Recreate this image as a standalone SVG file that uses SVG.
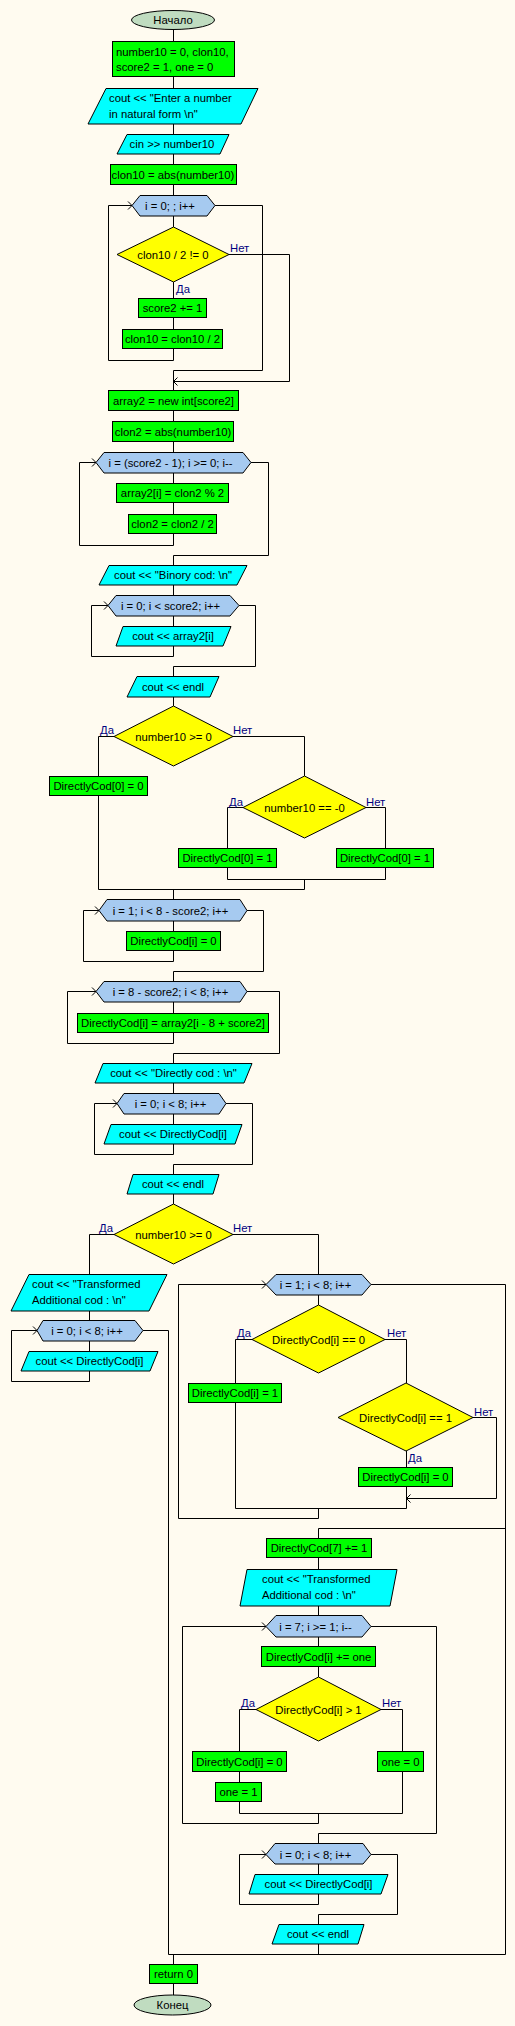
<svg xmlns="http://www.w3.org/2000/svg" width="515" height="2026" viewBox="0 0 515 2026">
<style>
.t{font-family:"Liberation Sans",Arial,sans-serif;font-size:11.3px;fill:#000}
.c{text-anchor:middle}
.lbl{fill:#000080}
.op{fill:#00FF00;stroke:#000;stroke-width:1}
.io{fill:#00FFFF;stroke:#000;stroke-width:1}
.dec{fill:#FFFF00;stroke:#000;stroke-width:1}
.loop{fill:#A6CAF0;stroke:#000;stroke-width:1}
.term{fill:#C0DCC0;stroke:#000;stroke-width:1}
#connectors path{fill:none;stroke:#000;stroke-width:1}
</style>
<defs>
<marker id="chev" markerWidth="8" markerHeight="10" refX="5" refY="5" orient="auto" markerUnits="userSpaceOnUse">
<path d="M1,1 L5,5 L1,9" fill="none" stroke="#000" stroke-width="1"/>
</marker>
</defs>
<rect x="0" y="0" width="515" height="2026" fill="#FFFBF0"/>

<g id="connectors">
<path d="M173.5,29.5 V41"/>
<path d="M173.5,77 V88"/>
<path d="M173.5,124 V134"/>
<path d="M173.5,154 V164"/>
<path d="M173.5,185 V195"/>
<path d="M173.5,216 V227"/>
<path d="M173.5,282 V298"/>
<path d="M173.5,318 V329"/>
<path d="M173.5,349 V360.5 H108.5 V205.5 H132" marker-end="url(#chev)"/>
<path d="M215,205.5 H262.5 V370.5 H173.5 V390"/>
<path d="M229,254.5 H289.5 V381.5 H173.5" marker-end="url(#chev)"/>
<path d="M173.5,411 V421"/>
<path d="M173.5,442 V452"/>
<path d="M173.5,473 V483"/>
<path d="M173.5,503 V514"/>
<path d="M173.5,534 V545.5 H79.5 V462.5 H96" marker-end="url(#chev)"/>
<path d="M251,462.5 H268.5 V555.5 H173.5 V565"/>
<path d="M173.5,585 V595"/>
<path d="M173.5,616 V626"/>
<path d="M173.5,646 V656.5 H91.5 V605.5 H108" marker-end="url(#chev)"/>
<path d="M239,605.5 H255.5 V666.5 H173.5 V676"/>
<path d="M173.5,697 V706"/>
<path d="M114,736.5 H98.5 V776"/>
<path d="M233,736.5 H304.5 V776"/>
<path d="M98.5,796 V889.5 H304.5"/>
<path d="M243,807.5 H227.5 V848"/>
<path d="M366,807.5 H385.5 V848"/>
<path d="M227.5,868 V879.5 H385.5 V868"/>
<path d="M304.5,879.5 V889.5"/>
<path d="M173.5,889.5 V899"/>
<path d="M173.5,921 V931"/>
<path d="M173.5,951 V961.5 H83.5 V910.5 H99" marker-end="url(#chev)"/>
<path d="M247,910.5 H263.5 V971.5 H173.5 V981"/>
<path d="M173.5,1002 V1013"/>
<path d="M173.5,1033 V1043.5 H67.5 V991.5 H96" marker-end="url(#chev)"/>
<path d="M247,991.5 H279.5 V1053.5 H173.5 V1063"/>
<path d="M173.5,1083 V1093"/>
<path d="M173.5,1114 V1124"/>
<path d="M173.5,1144 V1154.5 H94.5 V1103.5 H117" marker-end="url(#chev)"/>
<path d="M226,1103.5 H252.5 V1164.5 H173.5 V1174"/>
<path d="M173.5,1194 V1204"/>
<path d="M114,1234.5 H89.5 V1274"/>
<path d="M89.5,1311 V1320"/>
<path d="M89.5,1341 V1351"/>
<path d="M89.5,1371 V1381.5 H11.5 V1330.5 H37" marker-end="url(#chev)"/>
<path d="M143,1330.5 H168.5 V1954.5"/>
<path d="M233,1234.5 H318.5 V1274"/>
<path d="M318.5,1295 V1305"/>
<path d="M252,1339.5 H235.5 V1383"/>
<path d="M235.5,1403 V1508.5 H406.5"/>
<path d="M385,1339.5 H406.5 V1383"/>
<path d="M406.5,1451 V1467"/>
<path d="M406.5,1487 V1508.5"/>
<path d="M473,1417.5 H496.5 V1498.5 H406.5" marker-end="url(#chev)"/>
<path d="M318.5,1508.5 V1518.5 H178.5 V1284.5 H266" marker-end="url(#chev)"/>
<path d="M371,1284.5 H505.5 V1954.5"/>
<path d="M505.5,1528.5 H318.5 V1538"/>
<path d="M318.5,1558 V1569"/>
<path d="M318.5,1606 V1615"/>
<path d="M318.5,1637 V1646"/>
<path d="M318.5,1667 V1677"/>
<path d="M256,1709.5 H239.5 V1751"/>
<path d="M239.5,1772 V1782"/>
<path d="M239.5,1802 V1813.5 H402.5"/>
<path d="M381,1709.5 H402.5 V1751"/>
<path d="M402.5,1772 V1813.5"/>
<path d="M318.5,1813.5 V1823.5 H182.5 V1626.5 H266" marker-end="url(#chev)"/>
<path d="M371,1626.5 H436.5 V1833.5 H318.5 V1843"/>
<path d="M318.5,1864 V1874"/>
<path d="M318.5,1894 V1904.5 H239.5 V1854.5 H266" marker-end="url(#chev)"/>
<path d="M371,1854.5 H397.5 V1914.5 H318.5 V1924"/>
<path d="M318.5,1944 V1954.5"/>
<path d="M168.5,1954.5 H505.5"/>
<path d="M173.5,1954.5 V1964"/>
<path d="M173.5,1984 V1995"/>
</g>

<g id="start"><ellipse class="term" cx="173" cy="20" rx="41.5" ry="9.5"/><text class="t c" x="173" y="24">Начало</text></g>
<g id="init"><rect class="op" x="112.5" y="41.5" width="122" height="35"/><text class="t" x="116" y="56">number10 = 0, clon10,</text><text class="t" x="116" y="71">score2 = 1, one = 0</text></g>
<g id="out1"><polygon class="io" points="106,88.5 258,88.5 241,124 88,124"/><text class="t" x="109" y="102">cout &lt;&lt; "Enter a number</text><text class="t" x="109" y="118">in natural form \n"</text></g>
<g id="in1"><polygon class="io" points="127,134.5 229,134.5 220,154 117,154"/><text class="t c" x="172" y="148">cin &gt;&gt; number10</text></g>
<g id="abs1"><rect class="op" x="110.5" y="164.5" width="126" height="20"/><text class="t c" x="173" y="178.5">clon10 = abs(number10)</text></g>
<g id="loop1"><polygon class="loop" points="132,205.5 140,195.5 207,195.5 215,205.5 207,216 140,216"/><text class="t c" x="170" y="209.5">i = 0; ; i++</text></g>
<g id="if1"><polygon class="dec" points="173.5,227 229,254.5 173.5,282 117,254.5"/><text class="t c" x="173" y="258.5">clon10 / 2 != 0</text><text class="t lbl" x="230" y="252">Нет</text><text class="t lbl" x="176" y="293">Да</text></g>
<g id="sc2"><rect class="op" x="138.5" y="298.5" width="68" height="19"/><text class="t c" x="172.5" y="312">score2 += 1</text></g>
<g id="cl10"><rect class="op" x="122.5" y="329.5" width="100" height="19"/><text class="t c" x="172.5" y="343">clon10 = clon10 / 2</text></g>
<g id="arr2"><rect class="op" x="108.5" y="390.5" width="130" height="20"/><text class="t c" x="173.5" y="404.5">array2 = new int[score2]</text></g>
<g id="cl2"><rect class="op" x="112.5" y="421.5" width="121" height="20"/><text class="t c" x="173" y="435.5">clon2 = abs(number10)</text></g>
<g id="loop2"><polygon class="loop" points="96,462.5 104,452.5 243,452.5 251,462.5 243,473 104,473"/><text class="t c" x="170.5" y="466.5">i = (score2 - 1); i &gt;= 0; i--</text></g>
<g id="arr2i"><rect class="op" x="116.5" y="483.5" width="112" height="19"/><text class="t c" x="172.5" y="497">array2[i] = clon2 % 2</text></g>
<g id="cl2d"><rect class="op" x="128.5" y="514.5" width="88" height="19"/><text class="t c" x="172.5" y="528">clon2 = clon2 / 2</text></g>
<g id="out2"><polygon class="io" points="109,565.5 247,565.5 237,585 99,585"/><text class="t c" x="173" y="579">cout &lt;&lt; "Binory cod: \n"</text></g>
<g id="loop3"><polygon class="loop" points="108,605.5 116,595.5 230,595.5 239,605.5 230,616 116,616"/><text class="t c" x="170.5" y="609.5">i = 0; i &lt; score2; i++</text></g>
<g id="out3"><polygon class="io" points="123,626.5 231,626.5 223,646 116,646"/><text class="t c" x="173" y="640">cout &lt;&lt; array2[i]</text></g>
<g id="out4"><polygon class="io" points="137,676.5 219,676.5 210,697 127,697"/><text class="t c" x="173" y="690.5">cout &lt;&lt; endl</text></g>
<g id="if2"><polygon class="dec" points="173.5,706 233,736.5 173.5,766 114,736.5"/><text class="t c" x="173.5" y="740.5">number10 &gt;= 0</text><text class="t lbl" x="100" y="734">Да</text><text class="t lbl" x="233" y="734">Нет</text></g>
<g id="dc0a"><rect class="op" x="49.5" y="776.5" width="98" height="19"/><text class="t c" x="98.5" y="790">DirectlyCod[0] = 0</text></g>
<g id="if3"><polygon class="dec" points="304.5,776 366,807.5 304.5,838 243,807.5"/><text class="t c" x="304.5" y="811.5">number10 == -0</text><text class="t lbl" x="229" y="806">Да</text><text class="t lbl" x="366" y="806">Нет</text></g>
<g id="dc0b"><rect class="op" x="178.5" y="848.5" width="98" height="19"/><text class="t c" x="227.5" y="862">DirectlyCod[0] = 1</text></g>
<g id="dc0c"><rect class="op" x="336.5" y="848.5" width="97" height="19"/><text class="t c" x="385" y="862">DirectlyCod[0] = 1</text></g>
<g id="loop4"><polygon class="loop" points="99,910.5 107,899.5 240,899.5 247,910.5 240,921 107,921"/><text class="t c" x="170.5" y="914.5">i = 1; i &lt; 8 - score2; i++</text></g>
<g id="dci0"><rect class="op" x="126.5" y="931.5" width="94" height="19"/><text class="t c" x="173.5" y="945">DirectlyCod[i] = 0</text></g>
<g id="loop5"><polygon class="loop" points="96,991.5 104,981.5 240,981.5 247,991.5 240,1002 104,1002"/><text class="t c" x="170.5" y="995.5">i = 8 - score2; i &lt; 8; i++</text></g>
<g id="dciarr"><rect class="op" x="77.5" y="1013.5" width="191" height="19"/><text class="t c" x="173" y="1027">DirectlyCod[i] = array2[i - 8 + score2]</text></g>
<g id="out5"><polygon class="io" points="103,1063.5 252,1063.5 244,1083 95,1083"/><text class="t c" x="173.5" y="1077">cout &lt;&lt; "Directly cod : \n"</text></g>
<g id="loop6"><polygon class="loop" points="117,1103.5 124,1093.5 219,1093.5 226,1103.5 219,1114 124,1114"/><text class="t c" x="170.5" y="1107.5">i = 0; i &lt; 8; i++</text></g>
<g id="out6"><polygon class="io" points="111,1124.5 242,1124.5 235,1144 104,1144"/><text class="t c" x="173" y="1138">cout &lt;&lt; DirectlyCod[i]</text></g>
<g id="out7"><polygon class="io" points="133,1174.5 219,1174.5 213,1194 127,1194"/><text class="t c" x="173" y="1188">cout &lt;&lt; endl</text></g>
<g id="if4"><polygon class="dec" points="173.5,1204 233,1234.5 173.5,1264 114,1234.5"/><text class="t c" x="173.5" y="1238.5">number10 &gt;= 0</text><text class="t lbl" x="99" y="1232">Да</text><text class="t lbl" x="233" y="1232">Нет</text></g>
<g id="out8"><polygon class="io" points="29,1274.5 167,1274.5 149,1311 11,1311"/><text class="t" x="32" y="1288">cout &lt;&lt; "Transformed</text><text class="t" x="32" y="1304">Additional cod : \n"</text></g>
<g id="loop7"><polygon class="loop" points="37,1330.5 43,1320.5 135,1320.5 143,1330.5 135,1341 43,1341"/><text class="t c" x="87" y="1334.5">i = 0; i &lt; 8; i++</text></g>
<g id="out9"><polygon class="io" points="29,1351.5 158,1351.5 150,1371 21,1371"/><text class="t c" x="89.5" y="1365">cout &lt;&lt; DirectlyCod[i]</text></g>
<g id="loop8"><polygon class="loop" points="266,1284.5 276,1274.5 362,1274.5 371,1284.5 362,1295 276,1295"/><text class="t c" x="315.5" y="1288.5">i = 1; i &lt; 8; i++</text></g>
<g id="if5"><polygon class="dec" points="318.5,1305 385,1339.5 318.5,1373 252,1339.5"/><text class="t c" x="318.5" y="1343.5">DirectlyCod[i] == 0</text><text class="t lbl" x="237" y="1337">Да</text><text class="t lbl" x="387" y="1337">Нет</text></g>
<g id="dci1"><rect class="op" x="188.5" y="1383.5" width="93" height="19"/><text class="t c" x="235" y="1397">DirectlyCod[i] = 1</text></g>
<g id="if6"><polygon class="dec" points="406,1383 473,1417.5 406,1451 338,1417.5"/><text class="t c" x="405.5" y="1421.5">DirectlyCod[i] == 1</text><text class="t lbl" x="474" y="1416">Нет</text><text class="t lbl" x="408" y="1462">Да</text></g>
<g id="dci0b"><rect class="op" x="358.5" y="1467.5" width="94" height="19"/><text class="t c" x="405.5" y="1481">DirectlyCod[i] = 0</text></g>
<g id="dc7"><rect class="op" x="266.5" y="1538.5" width="105" height="19"/><text class="t c" x="319" y="1552">DirectlyCod[7] += 1</text></g>
<g id="out10"><polygon class="io" points="247,1569.5 397,1569.5 390,1606 240,1606"/><text class="t" x="262" y="1583">cout &lt;&lt; "Transformed</text><text class="t" x="262" y="1599">Additional cod : \n"</text></g>
<g id="loop9"><polygon class="loop" points="266,1626.5 276,1615.5 362,1615.5 371,1626.5 362,1637 276,1637"/><text class="t c" x="315.5" y="1630.5">i = 7; i &gt;= 1; i--</text></g>
<g id="dcione"><rect class="op" x="261.5" y="1646.5" width="114" height="20"/><text class="t c" x="318.5" y="1660.5">DirectlyCod[i] += one</text></g>
<g id="if7"><polygon class="dec" points="318.5,1677 381,1709.5 318.5,1741 256,1709.5"/><text class="t c" x="318.5" y="1713.5">DirectlyCod[i] &gt; 1</text><text class="t lbl" x="241" y="1707">Да</text><text class="t lbl" x="382" y="1707">Нет</text></g>
<g id="dci0c"><rect class="op" x="192.5" y="1751.5" width="94" height="20"/><text class="t c" x="239.5" y="1765.5">DirectlyCod[i] = 0</text></g>
<g id="one1"><rect class="op" x="215.5" y="1782.5" width="46" height="19"/><text class="t c" x="238.5" y="1796">one = 1</text></g>
<g id="one0"><rect class="op" x="377.5" y="1751.5" width="46" height="20"/><text class="t c" x="400.5" y="1765.5">one = 0</text></g>
<g id="loop10"><polygon class="loop" points="266,1854.5 275,1843.5 363,1843.5 371,1854.5 363,1864 275,1864"/><text class="t c" x="315.5" y="1858.5">i = 0; i &lt; 8; i++</text></g>
<g id="out11"><polygon class="io" points="255,1874.5 388,1874.5 381,1894 249,1894"/><text class="t c" x="318.5" y="1888">cout &lt;&lt; DirectlyCod[i]</text></g>
<g id="out12"><polygon class="io" points="279,1924.5 364,1924.5 358,1944 272,1944"/><text class="t c" x="318" y="1938">cout &lt;&lt; endl</text></g>
<g id="ret"><rect class="op" x="149.5" y="1964.5" width="48" height="19"/><text class="t c" x="173.5" y="1978">return 0</text></g>
<g id="end"><ellipse class="term" cx="172.5" cy="2005" rx="38.5" ry="10"/><text class="t c" x="172.5" y="2009">Конец</text></g>
</svg>
